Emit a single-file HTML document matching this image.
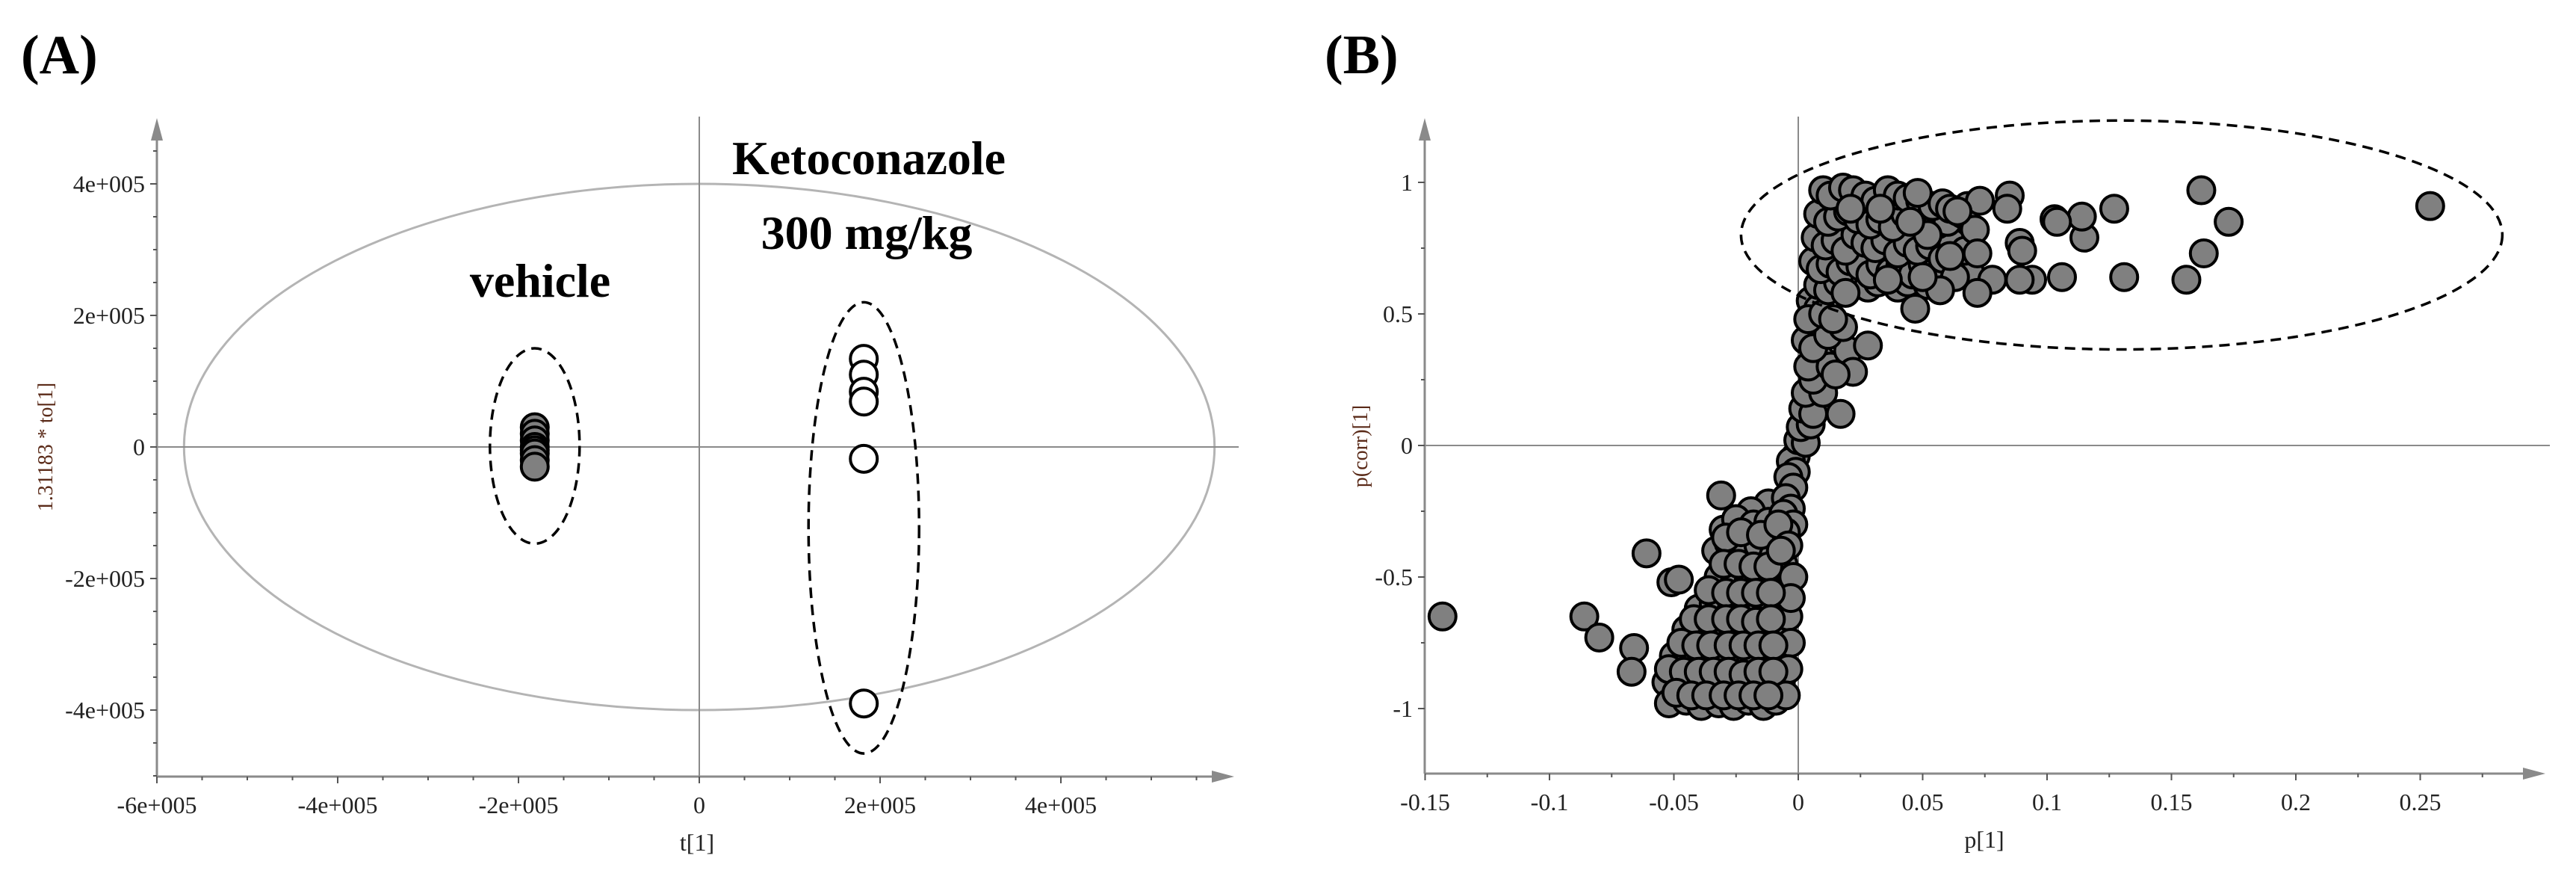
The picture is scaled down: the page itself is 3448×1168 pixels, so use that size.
<!DOCTYPE html>
<html><head><meta charset="utf-8"><style>
html,body{margin:0;padding:0;background:#fff;}
svg{display:block;font-family:"Liberation Serif",serif;}
</style></head><body>
<svg id="s" width="3448" height="1168" viewBox="0 0 3448 1168">
<text x="28" y="98" font-size="74" font-weight="bold">(A)</text>
<text x="1773" y="98" font-size="74" font-weight="bold">(B)</text>
<g id="ga"></g>
<g id="gb"></g>
</svg>
<script>
// Panel A data
const aXTicks = [-600000,-400000,-200000,0,200000,400000];
const aXTickLabels = ["-6e+005","-4e+005","-2e+005","0","2e+005","4e+005"];
const aYTicks = [-400000,-200000,0,200000,400000];
const aYTickLabels = ["-4e+005","-2e+005","0","2e+005","4e+005"];
const vehicleX = [-182000,-182000,-182000,-182000,-182000,-182000,-182000,-182000];
const vehicleY = [30000,20000,10000,0,-5000,-10000,-20000,-30000];
const ketoX = [182000,182000,182000,182000,182000,182000];
const ketoY = [134000,110000,84000,69000,-18000,-390000];
// Panel B data
const bXTicks = [-0.15,-0.1,-0.05,0,0.05,0.1,0.15,0.2,0.25];
const bXTickLabels = ["-0.15","-0.1","-0.05","0","0.05","0.1","0.15","0.2","0.25"];
const bYTicks = [-1,-0.5,0,0.5,1];
const bYTickLabels = ["-1","-0.5","0","0.5","1"];
const bPts = [
[-0.143,-0.65],[-0.086,-0.65],[-0.080,-0.73],[-0.066,-0.77],[-0.067,-0.86],[-0.061,-0.41],[-0.051,-0.52],[-0.048,-0.51],[-0.031,-0.19],
[-0.012,-0.22],[-0.019,-0.25],
[-0.030,-0.32],[-0.025,-0.28],[-0.018,-0.30],[-0.012,-0.29],[-0.008,-0.34],
[-0.033,-0.40],[-0.028,-0.37],[-0.022,-0.42],[-0.016,-0.38],[-0.010,-0.42],[-0.006,-0.45],
[-0.032,-0.50],[-0.026,-0.48],[-0.020,-0.52],[-0.014,-0.49],[-0.009,-0.53],[-0.005,-0.55],
[-0.040,-0.62],[-0.034,-0.60],[-0.027,-0.63],[-0.021,-0.60],[-0.015,-0.63],[-0.010,-0.60],[-0.006,-0.62],
[-0.045,-0.70],[-0.039,-0.72],[-0.032,-0.69],[-0.026,-0.72],[-0.020,-0.70],[-0.014,-0.73],[-0.008,-0.70],
[-0.050,-0.80],[-0.044,-0.82],[-0.038,-0.79],[-0.031,-0.83],[-0.025,-0.80],[-0.019,-0.82],[-0.013,-0.79],[-0.008,-0.82],
[-0.053,-0.90],[-0.047,-0.92],[-0.041,-0.89],[-0.035,-0.92],[-0.029,-0.90],[-0.023,-0.93],[-0.017,-0.89],[-0.011,-0.92],[-0.007,-0.90],
[-0.052,-0.98],[-0.045,-0.97],[-0.039,-0.99],[-0.032,-0.98],[-0.026,-0.99],[-0.020,-0.97],[-0.014,-0.99],[-0.009,-0.97],
[-0.004,-0.65],[-0.003,-0.75],[-0.004,-0.85],[-0.005,-0.95],[-0.002,-0.50],[-0.003,-0.58],
[-0.029,-0.35],[-0.023,-0.33],[-0.015,-0.34],[-0.030,-0.45],[-0.024,-0.45],[-0.018,-0.46],[-0.012,-0.46],[-0.036,-0.55],[-0.029,-0.56],[-0.023,-0.56],[-0.017,-0.56],[-0.011,-0.56],
[-0.042,-0.66],[-0.036,-0.66],[-0.029,-0.66],[-0.023,-0.66],[-0.017,-0.67],[-0.011,-0.66],[-0.047,-0.75],[-0.041,-0.76],[-0.035,-0.76],[-0.028,-0.76],[-0.022,-0.76],[-0.016,-0.76],[-0.010,-0.76],
[-0.052,-0.85],[-0.046,-0.86],[-0.040,-0.86],[-0.034,-0.86],[-0.028,-0.86],[-0.022,-0.87],[-0.016,-0.86],[-0.010,-0.86],[-0.049,-0.94],[-0.043,-0.95],[-0.037,-0.95],[-0.030,-0.95],[-0.024,-0.95],[-0.018,-0.95],[-0.012,-0.95],
[-0.001,-0.04],[-0.003,-0.06],[-0.001,-0.10],[-0.004,-0.12],[-0.002,-0.16],[-0.005,-0.20],[-0.003,-0.24],[-0.006,-0.26],[-0.002,-0.30],[-0.005,-0.33],[-0.008,-0.30],[-0.004,-0.38],[-0.007,-0.40],
[0.000,0.02],[0.003,0.01],[0.001,0.07],[0.005,0.08],[0.002,0.14],[0.006,0.12],[0.003,0.20],[0.010,0.20],[0.006,0.25],[0.009,0.33],[0.004,0.30],[0.013,0.30],[0.020,0.36],
[0.007,0.44],[0.003,0.40],[0.006,0.37],[0.012,0.42],[0.018,0.45],[0.005,0.55],[0.008,0.52],[0.004,0.48],[0.010,0.50],[0.014,0.48],
[0.028,0.38],[0.022,0.28],[0.017,0.12],[0.015,0.27],
[0.008,0.61],[0.012,0.59],[0.016,0.62],[0.020,0.63],[0.024,0.61],[0.028,0.60],[0.032,0.62],[0.040,0.60],[0.044,0.62],[0.052,0.61],
[0.006,0.70],[0.009,0.67],[0.013,0.69],[0.017,0.66],[0.021,0.70],[0.025,0.68],[0.029,0.65],[0.033,0.69],[0.037,0.66],[0.041,0.68],[0.046,0.65],[0.050,0.69],[0.055,0.66],[0.059,0.63],[0.066,0.65],[0.069,0.66],
[0.007,0.79],[0.011,0.76],[0.015,0.78],[0.019,0.74],[0.023,0.80],[0.027,0.77],[0.031,0.75],[0.035,0.78],[0.040,0.73],[0.044,0.77],[0.048,0.74],[0.053,0.76],[0.058,0.71],[0.062,0.77],[0.067,0.74],
[0.008,0.88],[0.012,0.85],[0.016,0.87],[0.020,0.89],[0.024,0.86],[0.029,0.84],[0.033,0.86],[0.038,0.83],[0.043,0.88],[0.047,0.85],[0.052,0.87],[0.056,0.84],[0.060,0.85],
[0.010,0.97],[0.013,0.95],[0.018,0.98],[0.022,0.97],[0.027,0.95],[0.031,0.93],[0.036,0.97],[0.040,0.95],[0.044,0.94],[0.049,0.93],[0.054,0.91],[0.058,0.92],[0.061,0.90],[0.066,0.88],[0.068,0.91],
[0.254,0.91],[0.162,0.97],[0.173,0.85],[0.163,0.73],[0.156,0.63],[0.131,0.64],[0.127,0.90],[0.115,0.79],[0.114,0.87],[0.103,0.86],[0.104,0.85],[0.106,0.64],
[0.094,0.63],[0.089,0.63],[0.089,0.77],[0.090,0.74],[0.085,0.95],[0.084,0.90],[0.078,0.63],[0.072,0.58],[0.073,0.93],[0.071,0.82],[0.072,0.73],
[0.064,0.89],[0.063,0.64],[0.061,0.72],[0.057,0.59],[0.052,0.80],[0.050,0.64],[0.048,0.96],[0.047,0.52],[0.045,0.85],[0.036,0.63],[0.033,0.90],[0.019,0.58],[0.021,0.90]
];
const bEllipse = {cx:0.130, cy:0.80, rx:0.153, ry:0.435};

const NS="http://www.w3.org/2000/svg";
function mk(parent,tag,attrs){const e=document.createElementNS(NS,tag);for(const k in attrs)e.setAttribute(k,attrs[k]);parent.appendChild(e);return e;}
const AX="#8a8a8a";

function axes(g,o){
  let l=mk(g,'line',{x1:o.left,y1:o.yb,x2:o.xEnd-26,y2:o.yb,stroke:AX,'stroke-width':3});
  
  
  let p=mk(g,'polygon',{points:`${o.xEnd},${o.yb} ${o.xEnd-30},${o.yb-8} ${o.xEnd-30},${o.yb+8}`,fill:AX});
  
  
  l=mk(g,'line',{x1:o.left,y1:o.yb,x2:o.left,y2:o.yTop+26,stroke:AX,'stroke-width':3});
  
  
  p=mk(g,'polygon',{points:`${o.left},${o.yTop} ${o.left-8},${o.yTop+30} ${o.left+8},${o.yTop+30}`,fill:AX});
  
  
  l=mk(g,'line',{x1:o.sx(0),y1:o.yb,x2:o.sx(0),y2:o.yTop-2,stroke:AX,'stroke-width':2});
  
  
  l=mk(g,'line',{x1:o.left,y1:o.sy(0),x2:o.xEnd+6,y2:o.sy(0),stroke:AX,'stroke-width':2});
  
  
  for(let v=o.xMin;v<=o.xMax+1e-9;v+=o.xMinor){const x=o.sx(v);if(x>o.xEnd-30)break;
    const t=mk(g,'line',{x1:x,y1:o.yb,x2:x,y2:o.yb+5,stroke:'#555','stroke-width':2});
    
    }
  for(let v=o.yMin;v<=o.yMax+1e-9;v+=o.yMinor){const y=o.sy(v);if(y<o.yTop+30||y>o.yb)continue;
    const t=mk(g,'line',{x1:o.left-5,y1:y,x2:o.left,y2:y,stroke:'#555','stroke-width':2});
    
    }
  o.xt.forEach((v,i)=>{const x=o.sx(v);
    const t=mk(g,'line',{x1:x,y1:o.yb,x2:x,y2:o.yb+9,stroke:'#555','stroke-width':2});
    
    
    const tx=mk(g,'text',{x:x,y:o.yb+49,'font-size':32,'text-anchor':'middle',fill:'#222'});tx.textContent=o.xl[i];
    
    });
  o.yt.forEach((v,i)=>{const y=o.sy(v);
    const t=mk(g,'line',{x1:o.left-9,y1:y,x2:o.left,y2:y,stroke:'#555','stroke-width':2});
    
    
    const tx=mk(g,'text',{x:o.left-16,y:y+11,'font-size':32,'text-anchor':'end',fill:'#222'});tx.textContent=o.yl[i];
    
    });
}

// ---- Panel A
const ga=document.getElementById('ga');
const aSx=v=>936+v*(242/200000), aSy=v=>598-v*(176/200000);
let e=mk(ga,'ellipse',{cx:aSx(0),cy:aSy(0),rx:570000*242/200000,ry:400000*176/200000,fill:'none',stroke:'#b4b4b4','stroke-width':3});


axes(ga,{left:210,yb:1039,xEnd:1652,yTop:158,sx:aSx,sy:aSy,xMin:-600000,xMax:600000,xMinor:50000,yMin:-500000,yMax:500000,yMinor:50000,xt:aXTicks,xl:aXTickLabels,yt:aYTicks,yl:aYTickLabels});
e=mk(ga,'ellipse',{cx:aSx(-182000),cy:aSy(1500),rx:60,ry:aSy(-147000)-aSy(1500),fill:'none',stroke:'#000','stroke-width':3.5,'stroke-dasharray':'14 9'});


e=mk(ga,'ellipse',{cx:aSx(182000),cy:aSy(-123000),rx:74,ry:aSy(-466000)-aSy(-123000),fill:'none',stroke:'#000','stroke-width':3.5,'stroke-dasharray':'14 9'});


vehicleX.forEach((v,i)=>{const c=mk(ga,'circle',{cx:aSx(v),cy:aSy(vehicleY[i]),r:18,fill:'#808080',stroke:'#000','stroke-width':4});
  
  });
ketoX.forEach((v,i)=>{const c=mk(ga,'circle',{cx:aSx(v),cy:aSy(ketoY[i]),r:18,fill:'#fff',stroke:'#000','stroke-width':4});
  
  });
let t=mk(ga,'text',{x:723,y:397,'font-size':64,'font-weight':'bold','text-anchor':'middle'});t.textContent='vehicle';


t=mk(ga,'text',{x:1163,y:233,'font-size':64,'font-weight':'bold','text-anchor':'middle'});t.textContent='Ketoconazole';


t=mk(ga,'text',{x:1160,y:333,'font-size':64,'font-weight':'bold','text-anchor':'middle'});t.textContent='300 mg/kg';


t=mk(ga,'text',{x:933,y:1138,'font-size':32,'text-anchor':'middle',fill:'#222'});t.textContent='t[1]';


t=mk(ga,'text',{x:0,y:0,'font-size':28,'text-anchor':'middle',fill:'#5a2a18',transform:'translate(70,598) rotate(-90)'});t.textContent='1.31183 * to[1]';



// ---- Panel B
const gb=document.getElementById('gb');
const bSx=v=>2407+v*3330, bSy=v=>596-v*352;
axes(gb,{left:1907,yb:1035,xEnd:3407,yTop:158,sx:bSx,sy:bSy,xMin:-0.15,xMax:0.3,xMinor:0.025,yMin:-1.25,yMax:1.25,yMinor:0.25,xt:bXTicks,xl:bXTickLabels,yt:bYTicks,yl:bYTickLabels});
bPts.forEach(p=>{const c=mk(gb,'circle',{cx:bSx(p[0]),cy:bSy(p[1]),r:18,fill:'#808080',stroke:'#000','stroke-width':4});
  
  });
e=mk(gb,'ellipse',{cx:bSx(bEllipse.cx),cy:bSy(bEllipse.cy),rx:bEllipse.rx*3330,ry:bEllipse.ry*352,fill:'none',stroke:'#000','stroke-width':3.5,'stroke-dasharray':'14 9'});


t=mk(gb,'text',{x:2656,y:1134,'font-size':32,'text-anchor':'middle',fill:'#222'});t.textContent='p[1]';


t=mk(gb,'text',{x:0,y:0,'font-size':28,'text-anchor':'middle',fill:'#5a2a18',transform:'translate(1830,597) rotate(-90)'});t.textContent='p(corr)[1]';


</script>
</body></html>
